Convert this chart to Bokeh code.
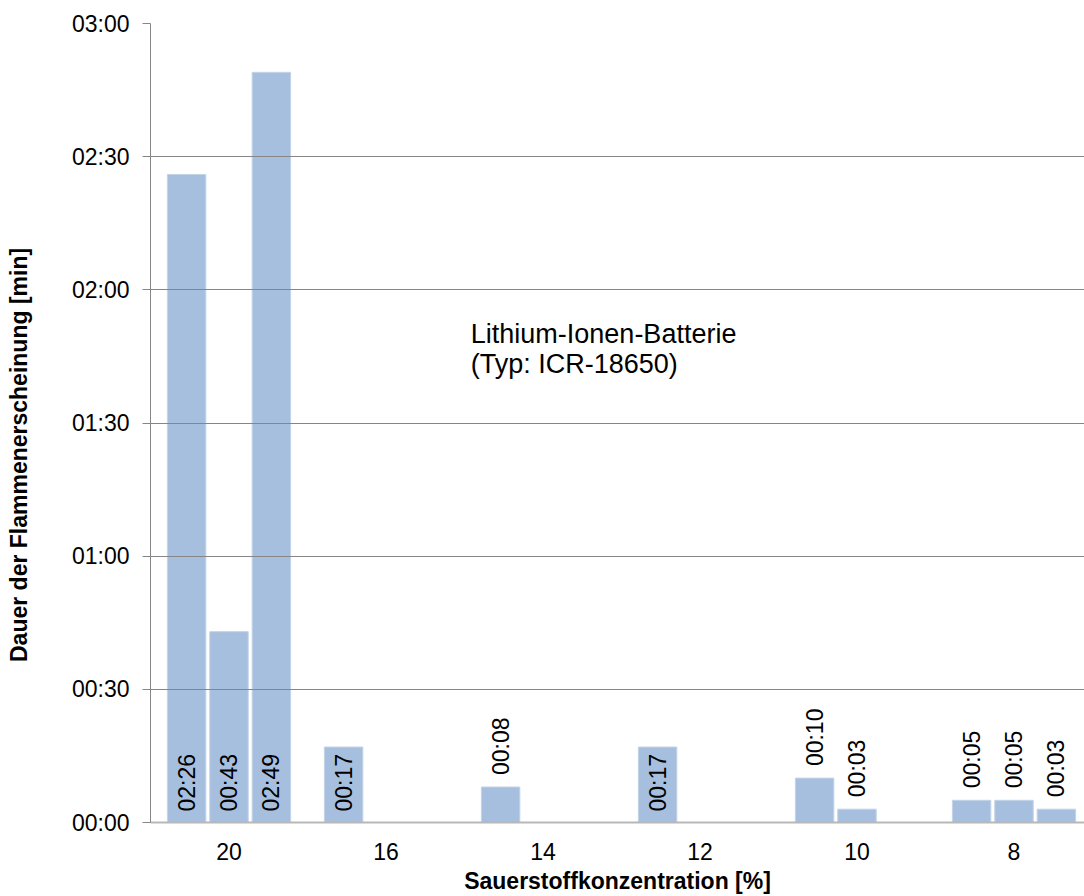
from bokeh.plotting import figure
from bokeh.models import ColumnDataSource, Range1d, FixedTicker, Label
from bokeh.embed import file_html
from bokeh.resources import INLINE

# ---- data -------------------------------------------------------------
categories = ["20", "16", "14", "12", "10", "8"]
# flame duration in seconds, three trials per oxygen concentration
trial_1 = [146, 17, 8, 17, 10, 5]
trial_2 = [43, None, None, None, 3, 5]
trial_3 = [169, None, None, None, None, 3]
y_ticks = [0, 30, 60, 90, 120, 150, 180]
y_tick_labels = ["00:00", "00:30", "01:00", "01:30", "02:00", "02:30", "03:00"]

FONT = "Liberation Sans"
BAR = "#A7BFDE"
GRID = "#868686"
FS = "23px"

offsets = [-0.27, 0.0, 0.27]
xs, tops, labels = [], [], []
for series, off in zip([trial_1, trial_2, trial_3], offsets):
    for i, v in enumerate(series):
        if v is None:
            continue
        xs.append(i + 0.5 + off)
        tops.append(v)
        labels.append("%02d:%02d" % (v // 60, v % 60))

inside = [t >= 17 for t in tops]
src_in = ColumnDataSource(dict(x=[x for x, k in zip(xs, inside) if k],
                               y=[0 for k in inside if k],
                               t=[l for l, k in zip(labels, inside) if k]))
src_out = ColumnDataSource(dict(x=[x for x, k in zip(xs, inside) if not k],
                                y=[v for v, k in zip(tops, inside) if not k],
                                t=[l for l, k in zip(labels, inside) if not k]))
bars = ColumnDataSource(dict(x=xs, top=tops))

p = figure(width=1084, height=896, output_backend="svg", toolbar_location=None,
           x_range=Range1d(0, 934 / 157), y_range=Range1d(0, 180),
           min_border_left=150, min_border_right=0, min_border_top=23,
           min_border_bottom=73)
p.outline_line_color = None
p.background_fill_color = "white"

p.vbar(x="x", top="top", bottom=0, width=0.245, source=bars,
       fill_color=BAR, line_color="#C3D3E8", line_width=1)

# grid above bars as in the original
p.xgrid.visible = False
p.ygrid.grid_line_color = GRID
p.ygrid.grid_line_width = 1
p.ygrid.level = "guide"
p.ygrid.ticker = FixedTicker(ticks=y_ticks)

# y axis
p.yaxis.ticker = FixedTicker(ticks=y_ticks)
p.yaxis.major_label_overrides = {t: l for t, l in zip(y_ticks, y_tick_labels)}
p.yaxis.axis_line_color = GRID
p.yaxis.major_tick_line_color = GRID
p.yaxis.major_tick_out = 8
p.yaxis.major_tick_in = 0
p.yaxis.minor_tick_line_color = None
p.yaxis.major_label_standoff = 13
p.yaxis.major_label_text_font = FONT
p.yaxis.major_label_text_font_size = FS
p.yaxis.major_label_text_color = "black"
# trailing no-break spaces shift the centred title down like the original
p.yaxis.axis_label = "Dauer der Flammenerscheinung [min]" + "\u00a0" * 10
p.yaxis.axis_label_standoff = 37
p.yaxis.axis_label_text_font = FONT
p.yaxis.axis_label_text_font_size = FS
p.yaxis.axis_label_text_font_style = "bold"
p.yaxis.axis_label_text_color = "black"

# x axis
p.xaxis.ticker = FixedTicker(ticks=[i + 0.5 for i in range(len(categories))])
p.xaxis.major_label_overrides = {i + 0.5: c for i, c in enumerate(categories)}
p.xaxis.axis_line_color = "#B8B8B8"
p.xaxis.axis_line_width = 2
p.xaxis.major_tick_line_color = None
p.xaxis.minor_tick_line_color = None
p.xaxis.major_label_standoff = 14
p.xaxis.major_label_text_font = FONT
p.xaxis.major_label_text_font_size = FS
p.xaxis.major_label_text_color = "black"
p.xaxis.axis_label = "Sauerstoffkonzentration [%]"
p.xaxis.axis_label_standoff = 5
p.xaxis.axis_label_text_font = FONT
p.xaxis.axis_label_text_font_size = FS
p.xaxis.axis_label_text_font_style = "bold"
p.xaxis.axis_label_text_color = "black"

# value labels
p.text(x="x", y="y", text="t", source=src_in, angle=1.5708,
       text_align="left", text_baseline="middle", y_offset=-11,
       text_font={"value": FONT}, text_font_size=FS, text_color="black")
p.text(x="x", y="y", text="t", source=src_out, angle=1.5708,
       text_align="left", text_baseline="middle", y_offset=-12,
       text_font={"value": FONT}, text_font_size=FS, text_color="black")

# annotation
for txt, yv in [("Lithium-Ionen-Batterie", 113.4), ("(Typ: ICR-18650)", 106.6)]:
    p.add_layout(Label(x=2.04, y=yv, text=txt, text_baseline="top",
                       text_align="left", text_font=FONT,
                       text_font_size="27px", text_color="black"))

open("out.html", "w").write(file_html(p, INLINE))
